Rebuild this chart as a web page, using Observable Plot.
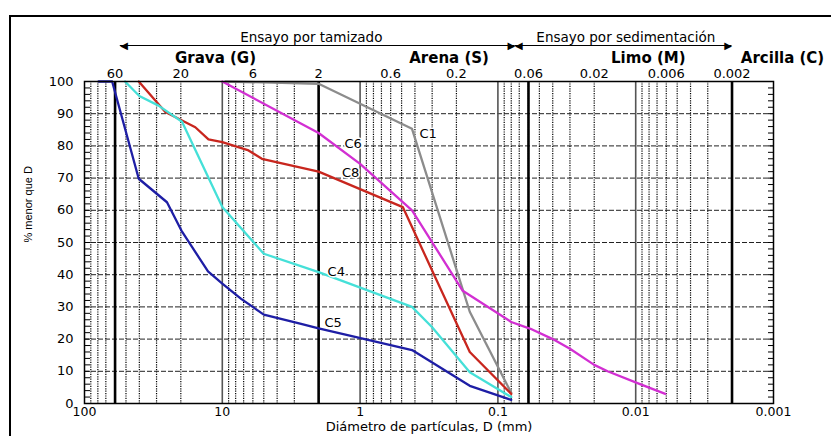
<!DOCTYPE html>
<html>
<head>
<meta charset="utf-8">
<script src="https://cdn.jsdelivr.net/npm/d3@7"></script>
<script src="https://cdn.jsdelivr.net/npm/@observablehq/plot@0.6"></script>
<style>
  body { margin: 0; background: #fff; }
  #wrap { position: relative; width: 831px; height: 436px; overflow: hidden; }
  #chart { position: absolute; left: 0; top: 0; }
  #border { position: absolute; left: 9px; top: 15px; width: 900px; height: 500px;
            border-left: 2px solid #000; border-top: 2px solid #000; pointer-events: none; }
</style>
</head>
<body>
<div id="wrap"><div id="chart"></div><div id="border"></div></div>
<script>
// ---- tick labels / reference lines ----
const bottomTicks = [100, 10, 1, 0.1, 0.01, 0.001];
const topTicks = [60, 20, 6, 2, 0.6, 0.2, 0.06, 0.02, 0.006, 0.002];
const yTicks = [0, 10, 20, 30, 40, 50, 60, 70, 80, 90, 100];
const yGrid = [10, 20, 30, 40, 50, 60, 70, 80, 90];
const yMinor = d3.range(2, 100, 2);
const decades = [10, 1, 0.1, 0.01];
const boundaries = [60, 2, 0.06, 0.002];
const minorX = d3.range(-3, 2).flatMap(e => d3.range(2, 10).map(k => +(k * 10 ** e).toPrecision(3)));

// ---- soil classes / test headings ----
const soilNames = ["Grava (G)", "Arena (S)", "Limo (M)", "Arcilla (C)"];
const soilCenters = [11.2, 0.226, 0.0081, 0.00086];
const testNames = ["Ensayo por tamizado", "Ensayo por sedimentación"];
const testCenters = [2.26, 0.0118];
const sieveArrow = [55, 0.075];      // Ensayo por tamizado (mm)
const sedimArrow = [0.075, 0.002];   // Ensayo por sedimentación (mm)

// ---- curves: [diameter mm, % passing] ----
const c1 = [[9.5, 100], [2, 99.3], [0.42, 85.3], [0.16, 28.5], [0.08, 3.3]];
const c6 = [[10, 100], [2, 84], [1.0, 74.4], [0.42, 60], [0.18, 35], [0.08, 25.3],
            [0.058, 23.2], [0.04, 20], [0.03, 17], [0.02, 12], [0.016, 10], [0.0093, 6], [0.0061, 3]];
const c8 = [[40.4, 100], [25.9, 90.5], [19.6, 87.9], [15.7, 85.8], [12.6, 82], [10, 81.2],
            [6.45, 78.6], [5.16, 76], [2, 72], [0.49, 61], [0.16, 16], [0.08, 3]];
const c4 = [[50.8, 100], [40, 95.5], [29, 92.5], [19.6, 87.5], [10, 61], [5, 46.5],
            [2, 40.8], [0.42, 30], [0.3, 23.7], [0.16, 9.7], [0.08, 2]];
const c5 = [[79, 100], [63, 100], [40.4, 69.8], [25.2, 62.5], [19.8, 53.7], [12.7, 41],
            [10, 37.2], [7.3, 32.5], [5, 27.6], [2.68, 24.7], [2, 23.3], [0.42, 16.6], [0.16, 5.5], [0.08, 1.1]];

const curveNames = ["C1", "C6", "C8", "C4", "C5"];
const curveLabelD = [0.321, 1.124, 1.17, 1.49, 1.57];
const curveLabelP = [83.9, 80.7, 71.7, 41.0, 25.2];
const curveColors = ["#8c8c8c", "#d22fd2", "#c8261e", "#45e0d8", "#1e1ea5"];

const curves = [c1, c6, c8, c4, c5];
const labels = curveNames.map((n, i) => ({name: n, d: curveLabelD[i], p: curveLabelP[i]}));

const FONT = "DejaVu Sans";
const fmt = d3.format("~g");

const lineMarks = curves.map((c, i) =>
  Plot.line(c, {x: d => d[0], y: d => d[1], stroke: curveColors[i], strokeWidth: 2.3, strokeLinejoin: "round"}));

const chart = Plot.plot({
  width: 831,
  height: 436,
  marginLeft: 84,
  marginRight: 58,
  marginTop: 81,
  marginBottom: 33,
  style: {fontFamily: FONT, fontSize: "13px", color: "#000", background: "#fff"},
  x: {type: "log", domain: [100, 0.001], axis: null},
  y: {domain: [0, 100], axis: null},
  marks: [
    Plot.gridY({ticks: yGrid, stroke: "#222", strokeOpacity: 1, strokeDasharray: "5,2"}),
    Plot.gridX({ticks: minorX, stroke: "#000", strokeOpacity: 1, strokeWidth: 1.2, strokeDasharray: "1.2,1.2"}),
    Plot.ruleX(decades, {stroke: "#555", strokeWidth: 1.6}),
    Plot.ruleX(boundaries, {stroke: "#000", strokeWidth: 2.6}),
    ...lineMarks,
    Plot.frame({stroke: "#000", strokeWidth: 1.5}),
    Plot.axisY({anchor: "left", ticks: yMinor, tickSize: 6, dx: 6, tickFormat: () => "", label: null, stroke: "#000"}),
    Plot.axisY({anchor: "right", ticks: yMinor, tickSize: 6, dx: -6, tickFormat: () => "", label: null, stroke: "#000"}),
    Plot.axisY({anchor: "left", ticks: yTicks, tickSize: 0, tickPadding: 11, fontSize: 13, label: null}),
    Plot.axisX({anchor: "bottom", ticks: bottomTicks, tickSize: 0, tickPadding: 4, tickFormat: fmt, fontSize: 12.5, label: null}),
    Plot.text(topTicks, {x: d => d, text: d => fmt(d), frameAnchor: "top", dy: -4, lineAnchor: "bottom", fontSize: 13}),
    // axis titles
    Plot.text(["Diámetro de partículas, D (mm)"], {frameAnchor: "bottom", dy: 23, lineAnchor: "middle", fontSize: 13}),
    Plot.text(["% menor que D"], {frameAnchor: "left", dx: -56, rotate: -90, lineAnchor: "middle", fontSize: 11, fontFamily: "Liberation Sans"}),
    // soil class headings
    Plot.text(soilNames, {x: (d, i) => soilCenters[i], frameAnchor: "top", dy: -23.5, lineAnchor: "middle", fontSize: 15, fontWeight: "bold"}),
    // test headings and arrows
    Plot.text(testNames, {x: (d, i) => testCenters[i], frameAnchor: "top", dy: -43.5, lineAnchor: "middle", fontSize: 13.5}),
    Plot.ruleY([100], {x1: sieveArrow[0], x2: sieveArrow[1], dy: -36, stroke: "#000", strokeWidth: 1.2}),
    Plot.ruleY([100], {x1: sedimArrow[0], x2: sedimArrow[1], dy: -36, stroke: "#000", strokeWidth: 1.2}),
    Plot.text(["◀"], {x: sieveArrow[0], frameAnchor: "top", dy: -36, textAnchor: "start", lineAnchor: "middle", fontSize: 10}),
    Plot.text(["▶"], {x: sieveArrow[1], frameAnchor: "top", dy: -36, textAnchor: "end", lineAnchor: "middle", fontSize: 10}),
    Plot.text(["◀"], {x: sedimArrow[0], frameAnchor: "top", dy: -36, textAnchor: "start", lineAnchor: "middle", fontSize: 10}),
    Plot.text(["▶"], {x: sedimArrow[1], frameAnchor: "top", dy: -36, textAnchor: "end", lineAnchor: "middle", fontSize: 10}),
    // curve labels
    Plot.text(labels, {x: "d", y: "p", text: "name", textAnchor: "middle", lineAnchor: "middle", fontSize: 13,
                       fill: "#000", stroke: "#fff", strokeWidth: 3})
  ]
});
document.getElementById("chart").appendChild(chart);
</script>
</body>
</html>
